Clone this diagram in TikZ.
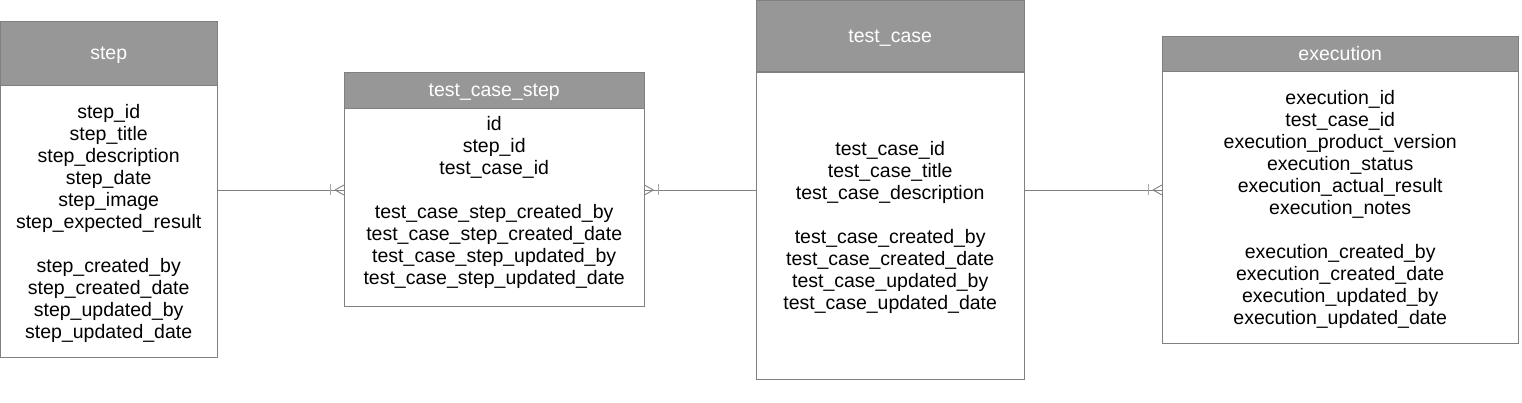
\documentclass[tikz,border=0pt]{standalone}
\usepackage{fontspec}
\setmainfont{Liberation Sans}
\usetikzlibrary{calc,decorations.markings}
\definecolor{hdrgray}{HTML}{979797}
\definecolor{linegray}{HTML}{808080}
\definecolor{bargray}{HTML}{A8A8A8}
\tikzset{
    tblhead/.style={
    rectangle,draw=linegray,fill=hdrgray,text=white,anchor=north west,inner sep=0pt,text depth=0pt,
    font=\fontsize{19.5}{22}\selectfont
    },
    tblbody/.style={
    rectangle,draw=linegray,fill=white,anchor=north west,inner sep=0pt
    },
    fields/.style={
    align=center,inner sep=0pt,yshift=-2pt,font=\fontsize{19.5}{22}\selectfont
    },
    link/.style={
    draw=linegray,line width=0.9pt
    },
    tomany/.style={
    decoration={ markings,
      mark=at position 1 with {\draw[linegray,line width=0.9pt] (-9pt,0pt) -- (0pt,5pt) (-9pt,0pt) -- (0pt,-5pt);
        \draw[bargray,line width=1pt] (-14pt,-5.5pt) -- (-14pt,5.5pt);}
      },
    postaction={decorate}
    },
}
\begin{document}
\begin{tikzpicture}[x=1pt,y=-1pt]
  \useasboundingbox (0,0) rectangle (1522,403);
  % tables
  \node[tblhead,minimum width=217pt,minimum height=64pt] (stepH) at (0,21) {step};
  \node[tblbody,minimum width=217pt,minimum height=272pt] (stepB) at (stepH.south west) {};
  \node[tblhead,minimum width=300pt,minimum height=36pt] (tcsH) at (344,72) {test\_case\_step};
  \node[tblbody,minimum width=300pt,minimum height=198pt] (tcsB) at (tcsH.south west) {};
  \node[tblhead,minimum width=268pt,minimum height=71pt] (tcH) at (756,0.5) {test\_case};
  \node[tblbody,minimum width=268pt,minimum height=307pt] (tcB) at (tcH.south west) {};
  \node[tblhead,minimum width=356pt,minimum height=35pt] (exH) at (1162,36) {execution};
  \node[tblbody,minimum width=356pt,minimum height=272pt] (exB) at (exH.south west) {};

  % fields
  \node[fields] (stepF) at (stepB.center) {step\_id\\ step\_title\\ step\_description\\ step\_date\\ step\_image\\ step\_expected\_result\\[22pt]
    step\_created\_by\\ step\_created\_date\\ step\_updated\_by\\ step\_updated\_date};
  \node[fields] (tcsF) at ($(tcsB.center)+(0,-7)$) {id\\ step\_id\\ test\_case\_id\\[22pt]
    test\_case\_step\_created\_by\\ test\_case\_step\_created\_date\\ test\_case\_step\_updated\_by\\ test\_case\_step\_updated\_date};
  \node[fields] (tcF) at (tcB.center) {test\_case\_id\\ test\_case\_title\\ test\_case\_description\\[22pt]
    test\_case\_created\_by\\ test\_case\_created\_date\\ test\_case\_updated\_by\\ test\_case\_updated\_date};
  \node[fields] (exF) at (exB.center) {execution\_id\\ test\_case\_id\\ execution\_product\_version\\ execution\_status\\ execution\_actual\_result\\ execution\_notes\\[22pt]
    execution\_created\_by\\ execution\_created\_date\\ execution\_updated\_by\\ execution\_updated\_date};

  % relations
  \coordinate (lnk) at (0,190);
  \draw[link,tomany] (stepB.east |- lnk) -- (tcsB.west |- lnk);
  \draw[link,tomany] (tcB.west |- lnk) -- (tcsB.east |- lnk);
  \draw[link,tomany] (tcB.east |- lnk) -- (exB.west |- lnk);
\end{tikzpicture}
\end{document}
